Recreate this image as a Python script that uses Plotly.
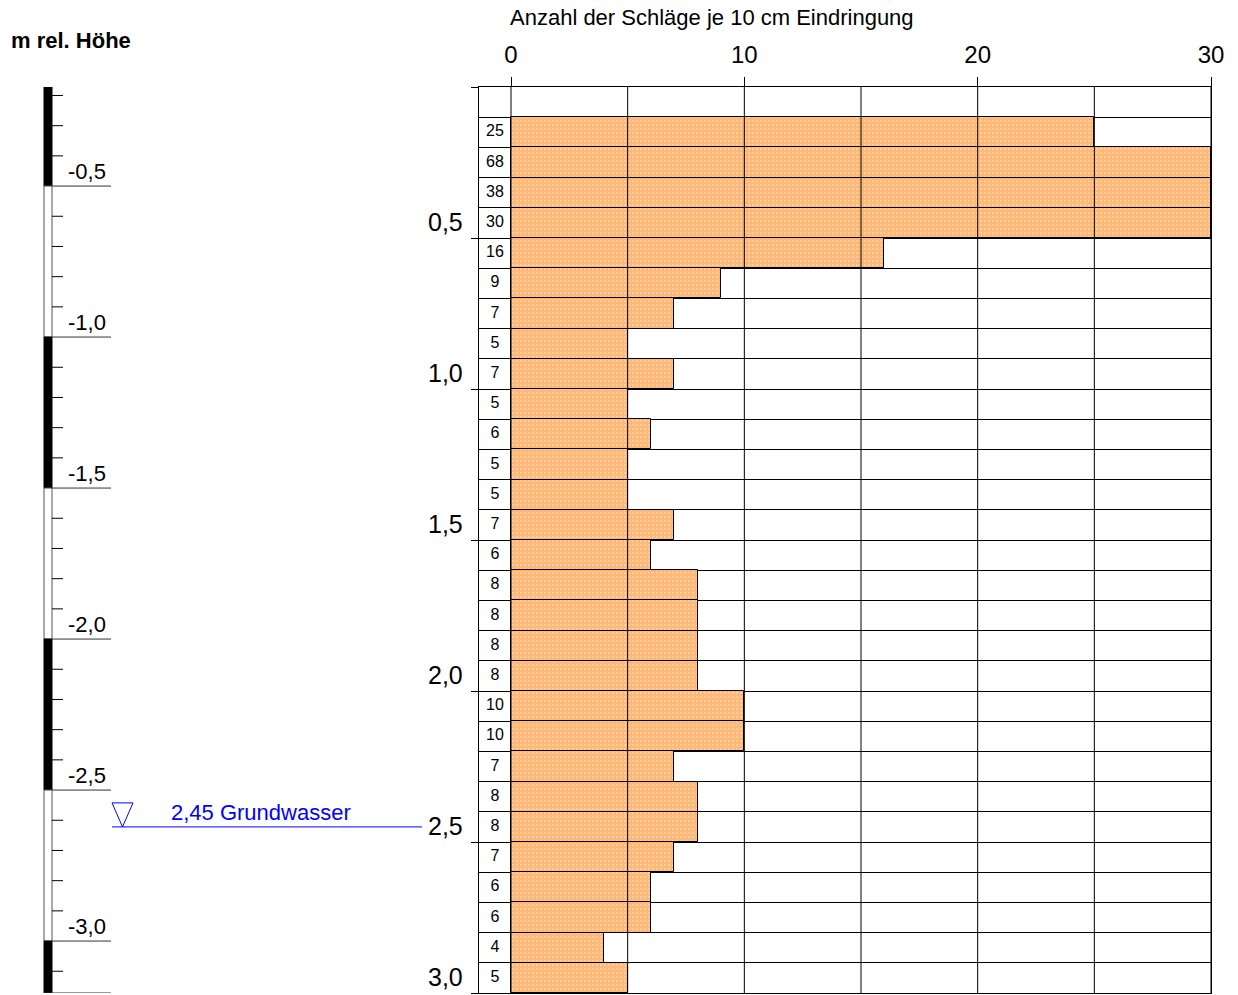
import numpy as np
import plotly.graph_objects as go

# ---------------- data ----------------
depth_top = [round(0.1 * i, 1) for i in range(1, 30)]          # top of each 10 cm layer (m)
blows = [25, 68, 38, 30, 16, 9, 7, 5, 7, 5, 6, 5, 5, 7, 6, 8, 8, 8, 8,
         10, 10, 7, 8, 8, 7, 6, 6, 4, 5]
x_max = 30
x_ticks = [0, 10, 20, 30]
x_grid = [0, 5, 10, 15, 20, 25, 30]
depth_ticks = [0.0, 0.5, 1.0, 1.5, 2.0, 2.5, 3.0]
depth_labels = ["", "0,5", "1,0", "1,5", "2,0", "2,5", "3,0"]
max_depth = 3.0
elev_top = -0.172                                                # m rel. Höhe at depth 0
elev_major = [-0.5, -1.0, -1.5, -2.0, -2.5, -3.0]
elev_major_labels = ["-0,5", "-1,0", "-1,5", "-2,0", "-2,5", "-3,0"]
gw_depth = 2.45
gw_text = "2,45 Grundwasser"
x_title = "Anzahl der Schläge je 10 cm Eindringung"
y_title = "m rel. Höhe"

W, H = 1238, 995
T, B = 87, 2
plot_h = H - T - B
FONT = "Liberation Sans, Arial, sans-serif"

def py(p):  # pixel y -> paper y
    return 1 - (p - T) / plot_h

def px(p):  # pixel x -> paper x
    return p / W

mids = [d + 0.05 for d in depth_top]
capped = [min(b, x_max) for b in blows]

# main axis: value column (479..511) + bars (511..1211)
x0_px, x_end_px, col_px = 511, 1211, 479
unit = (x_end_px - x0_px) / x_max
x_min = -(x0_px - col_px) / unit
col_center = x_min / 2

fig = go.Figure()

fig.add_trace(go.Bar(
    y=mids, x=capped, orientation="h", width=0.1, base=0,
    marker=dict(color="#fdbb7c", line=dict(color="black", width=1),
                pattern=dict(shape=".", fgcolor="#ffe2c4", bgcolor="#fdb877",
                             size=4, solidity=0.25)),
    xaxis="x", yaxis="y", hoverinfo="skip", showlegend=False))

fig.add_trace(go.Scatter(
    y=mids, x=[col_center] * len(mids), mode="text", text=[str(b) for b in blows],
    textfont=dict(size=16, color="black", family=FONT),
    xaxis="x", yaxis="y", hoverinfo="skip", showlegend=False))

shapes = []
for g in x_grid:
    shapes.append(dict(type="line", xref="x", yref="y", x0=g, x1=g, y0=0, y1=max_depth,
                       line=dict(color="black", width=1), layer="above"))

# left elevation scale (x2 in pixel-like units)
L_W = 470
col_l, col_r, minor_r, major_r = 44, 52, 63, 111
elev_bot = elev_top - max_depth
bounds = [elev_top] + elev_major + [elev_bot]
for i in range(len(bounds) - 1):
    black = (i % 2 == 0)
    shapes.append(dict(type="rect", xref="x2", yref="y2", x0=col_l, x1=col_r,
                       y0=bounds[i + 1], y1=bounds[i],
                       fillcolor="black" if black else "white",
                       line=dict(color="black" if black else "#555", width=1)))
for e in np.arange(-0.2, elev_bot, -0.1):
    e = round(float(e), 1)
    if any(abs(e - m) < 1e-6 for m in elev_major):
        continue
    shapes.append(dict(type="line", xref="x2", yref="y2", x0=col_r, x1=minor_r, y0=e, y1=e,
                       line=dict(color="black", width=1)))
for e in elev_major + [elev_bot]:
    shapes.append(dict(type="line", xref="x2", yref="y2", x0=col_r if e != elev_bot else col_l,
                       x1=major_r, y0=e, y1=e, line=dict(color="#333", width=1)))

# groundwater
gw_elev = elev_top - gw_depth
tri_h = 24 / plot_h * max_depth
shapes.append(dict(type="line", xref="x2", yref="y2", x0=112, x1=422, y0=gw_elev, y1=gw_elev,
                   line=dict(color="blue", width=1)))
shapes.append(dict(type="path", xref="x2", yref="y2",
                   path=f"M 112 {gw_elev + tri_h} L 133 {gw_elev + tri_h} L 122.5 {gw_elev} Z",
                   line=dict(color="blue", width=1), fillcolor="rgba(0,0,0,0)"))

annotations = []
for d, lab in zip(depth_ticks, depth_labels):
    if lab:
        annotations.append(dict(text=lab, xref="paper", yref="y", x=px(465), y=d,
                                xanchor="right", yanchor="bottom", showarrow=False,
                                font=dict(size=25, color="black", family=FONT)))
for e, lab in zip(elev_major, elev_major_labels):
    annotations.append(dict(text=lab, xref="x2", yref="y2", x=66, y=e,
                            xanchor="left", yanchor="bottom", showarrow=False,
                            font=dict(size=22, color="black", family=FONT)))
annotations.append(dict(text=gw_text, xref="x2", yref="y2", x=169, y=gw_elev,
                        xanchor="left", yanchor="bottom", showarrow=False,
                        font=dict(size=22, color="blue", family=FONT)))
annotations.append(dict(text=x_title, xref="paper", yref="paper", x=px(508), y=py(18),
                        xanchor="left", yanchor="middle", showarrow=False,
                        font=dict(size=22, color="black", family=FONT)))
annotations.append(dict(text="<b>" + y_title + "</b>", xref="paper", yref="paper",
                        x=px(9), y=py(40), xanchor="left", yanchor="middle", showarrow=False,
                        font=dict(size=22, color="black", family=FONT)))

fig.update_layout(
    width=W, height=H, margin=dict(l=0, r=0, t=T, b=B, autoexpand=False),
    paper_bgcolor="white", plot_bgcolor="white",
    font=dict(family=FONT, color="black"),
    bargap=0, showlegend=False,
    xaxis=dict(domain=[px(col_px), px(x_end_px)], range=[x_min, x_max], side="top",
               tickvals=x_ticks, ticks="outside", ticklen=9, tickcolor="black",
               tickfont=dict(size=24, color="black", family=FONT), ticklabelstandoff=4,
               showgrid=False, zeroline=False, showline=True, mirror=True, automargin=False,
               linecolor="black", linewidth=1, fixedrange=True),
    yaxis=dict(domain=[0, 1], range=[max_depth, 0], anchor="x",
               tickvals=depth_ticks, ticks="outside", ticklen=7, tickcolor="black",
               showticklabels=False, showgrid=True, gridcolor="black", gridwidth=1,
               minor=dict(dtick=0.1, tick0=0, showgrid=True, gridcolor="black",
                          gridwidth=1, ticks=""), automargin=False,
               zeroline=False, showline=True, mirror=True, linecolor="black",
               linewidth=1, fixedrange=True),
    xaxis2=dict(domain=[0, px(L_W)], range=[0, L_W], visible=False, anchor="y2",
                fixedrange=True),
    yaxis2=dict(domain=[0, 1], range=[elev_bot, elev_top], visible=False, anchor="x2",
                fixedrange=True),
    shapes=shapes, annotations=annotations,
)

fig.write_html("out.html")
